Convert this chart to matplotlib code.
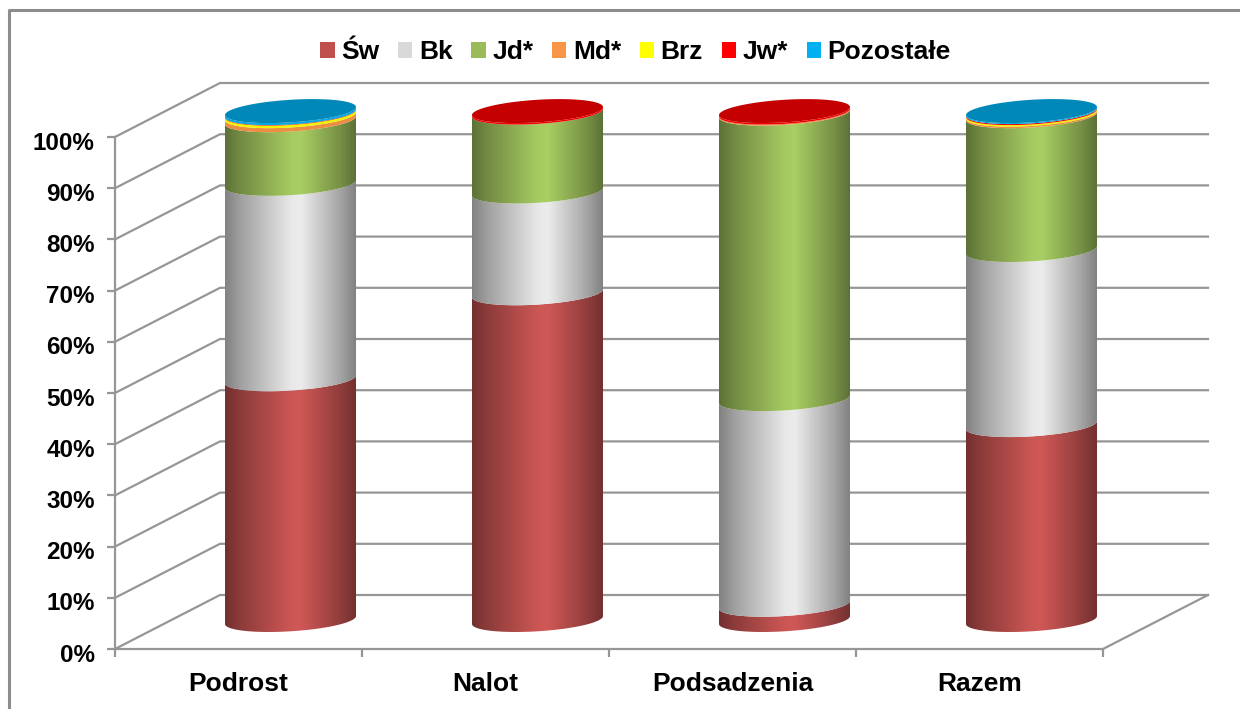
# IMPORTS #######################################

import matplotlib

matplotlib.use("Agg")
import matplotlib.pyplot as plt
import numpy as np
from matplotlib.patches import Patch, PathPatch, Polygon
from matplotlib.path import Path
from matplotlib.transforms import ScaledTranslation

# DATA ##########################################

categories = ["Podrost", "Nalot", "Podsadzenia", "Razem"]
species = ["Św", "Bk", "Jd*", "Md*", "Brz", "Jw*", "Pozostałe"]

sw = [47.3, 64.2, 3.0, 38.3]
bk = [38.4, 20.0, 40.4, 34.4]
jd = [12.5, 15.5, 56.1, 26.3]
md = [0.8, 0.0, 0.2, 0.3]
brz = [0.5, 0.0, 0.0, 0.3]
jw = [0.1, 0.3, 0.3, 0.2]
pozostale = [0.4, 0.0, 0.0, 0.2]
series = [sw, bk, jd, md, brz, jw, pozostale]

yticks = [0, 10, 20, 30, 40, 50, 60, 70, 80, 90, 100]

# STYLE #########################################

legend_colors = ["#C0504D", "#D9D9D9", "#9BBB59", "#F79646", "#FFFF00", "#FF0000", "#00B0F0"]
centre_colors = ["#CF5856", "#ECECEC", "#A9CE63", "#F79646", "#FFFF00", "#FF0000", "#00B0F0"]
cap_colors = ["#A94643", "#BDBDBD", "#88A44E", "#D98340", "#E0E000", "#C40000", "#0088B8"]
shade_x = [0.0, 0.12, 0.5, 0.58, 0.88, 1.0]
shade_y = [0.55, 0.68, 0.98, 1.0, 0.70, 0.55]
GRID = "#969696"

plt.rcParams.update({"font.family": "Liberation Sans", "font.size": 17.5, "font.weight": "bold"})

# FIGURE ########################################

W, H = 1240, 709
fig = plt.figure(figsize=(W / 100, H / 100), dpi=100)

# axes = front plane of the 3d box
x0, x1, y0, y1 = 115, 1103, 649, 137
ax = fig.add_axes([x0 / W, 1 - y0 / H, (x1 - x0) / W, (y0 - y1) / H])
ax.set_xlim(0, len(categories))
ax.set_ylim(0, 100)
ax.patch.set_alpha(0)
for s in ax.spines.values():
    s.set_visible(False)

px_x = (x1 - x0) / len(categories)
px_y = (y0 - y1) / 100
depth_x = 105 / px_x
depth_y = 54 / px_y

# outer frame, only top and left are in the crop
fig.add_artist(plt.Line2D([8.5 / W, 8.5 / W, 1], [0, 1 - 9.5 / H, 1 - 9.5 / H], color="#8C8C8C", lw=2.2))

# WALLS #########################

for v in yticks:
    ax.plot([0, depth_x, len(categories) + depth_x], [v, v + depth_y, v + depth_y], color=GRID, lw=1.6, clip_on=False, zorder=1)
ax.plot([len(categories), len(categories) + depth_x], [0, depth_y], color=GRID, lw=1.6, clip_on=False, zorder=1)
ax.plot([0, 0], [0, 100], color=GRID, lw=1.6, clip_on=False, zorder=1)
ax.plot([0, len(categories)], [0, 0], color=GRID, lw=1.6, clip_on=False, zorder=1)

ax.set_yticks(yticks)
ax.set_yticklabels([f"{v}%" for v in yticks])
ax.set_xticks(np.arange(len(categories) + 1))
ax.set_xticklabels([])
ax.tick_params(axis="both", color=GRID, width=1.6, length=5.5)
ax.tick_params(axis="y", pad=9)
# labels sit a little under their ticks in the original
for lab in ax.get_yticklabels():
    lab.set_transform(lab.get_transform() + ScaledTranslation(0, -3.5 / 100, fig.dpi_scale_trans))
for i, name in enumerate(categories):
    ax.text(i + 0.5, -6.85, name, ha="center", va="center", clip_on=False, fontsize=19)

# CYLINDERS #####################

half_w = 65.5 / px_x
tilt = 4 / px_y
minor = 11.3 / px_y
stack_scale = 0.994  # cylinder is a touch shorter than the wall
t = np.linspace(0, np.pi, 80)


def front_arc(cx, v):
    # lower half of the sheared ellipse, right to left
    xs = cx + half_w * np.cos(t)
    ys = v + tilt * np.cos(t) - minor * np.sin(t)
    return xs, ys


for i in range(len(categories)):
    cx = i + 0.5 + (depth_x - 1 / px_x) / 2
    base = depth_y / 2 + 2 / px_y
    bottom = 0.0
    top_name = 0
    for k, vals in enumerate(series):
        if vals[i] <= 0:
            continue
        top_name = k
        lo = base + bottom * stack_scale
        hi = base + (bottom + vals[i]) * stack_scale
        xa, ya = front_arc(cx, lo)
        xb, yb = front_arc(cx, hi)
        verts = np.vstack([np.column_stack([xa, ya]), np.column_stack([xb[::-1], yb[::-1]]), [xa[0], ya[0]]])
        codes = [Path.MOVETO] + [Path.LINETO] * (len(verts) - 2) + [Path.CLOSEPOLY]
        clip = PathPatch(Path(verts, codes), transform=ax.transData, fc="none", ec="none")
        ax.add_patch(clip)

        ramp = np.linspace(0, 1, 200)
        shade = np.interp(ramp, shade_x, shade_y)
        rgb = np.array(matplotlib.colors.to_rgb(centre_colors[k]))
        if k >= 3:
            shade = np.ones_like(ramp) * 0.95
        img = np.clip(shade[None, :, None] * rgb[None, None, :], 0, 1)
        im = ax.imshow(
            img,
            extent=[cx - half_w, cx + half_w, lo - 5, hi + 5],
            aspect="auto",
            interpolation="bilinear",
            zorder=3,
        )
        im.set_clip_box(fig.bbox)
        im.set_clip_path(clip)
        bottom += vals[i]

    # top cap takes the colour of the last series
    tt = np.linspace(0, 2 * np.pi, 160)
    top_v = base + bottom * stack_scale
    cap = Polygon(
        np.column_stack([cx + half_w * np.cos(tt), top_v + tilt * np.cos(tt) + minor * np.sin(tt)]),
        closed=True,
        fc=cap_colors[top_name],
        ec="none",
        zorder=4,
        clip_on=False,
    )
    ax.add_patch(cap)

ax.set_xlim(0, len(categories))
ax.set_ylim(0, 100)

# LEGEND ########################

handles = [Patch(facecolor=c, edgecolor="none", label=n) for c, n in zip(legend_colors, species)]
fig.legend(
    handles=handles,
    ncol=len(species),
    loc="center",
    bbox_to_anchor=(635.5 / W, 1 - 52 / H),
    frameon=False,
    handlelength=0.55,
    handleheight=0.55,
    handletextpad=0.25,
    columnspacing=0.7,
    fontsize=19,
)

# EXPORT ########################

fig.savefig("out.png", dpi=100, facecolor="white")
